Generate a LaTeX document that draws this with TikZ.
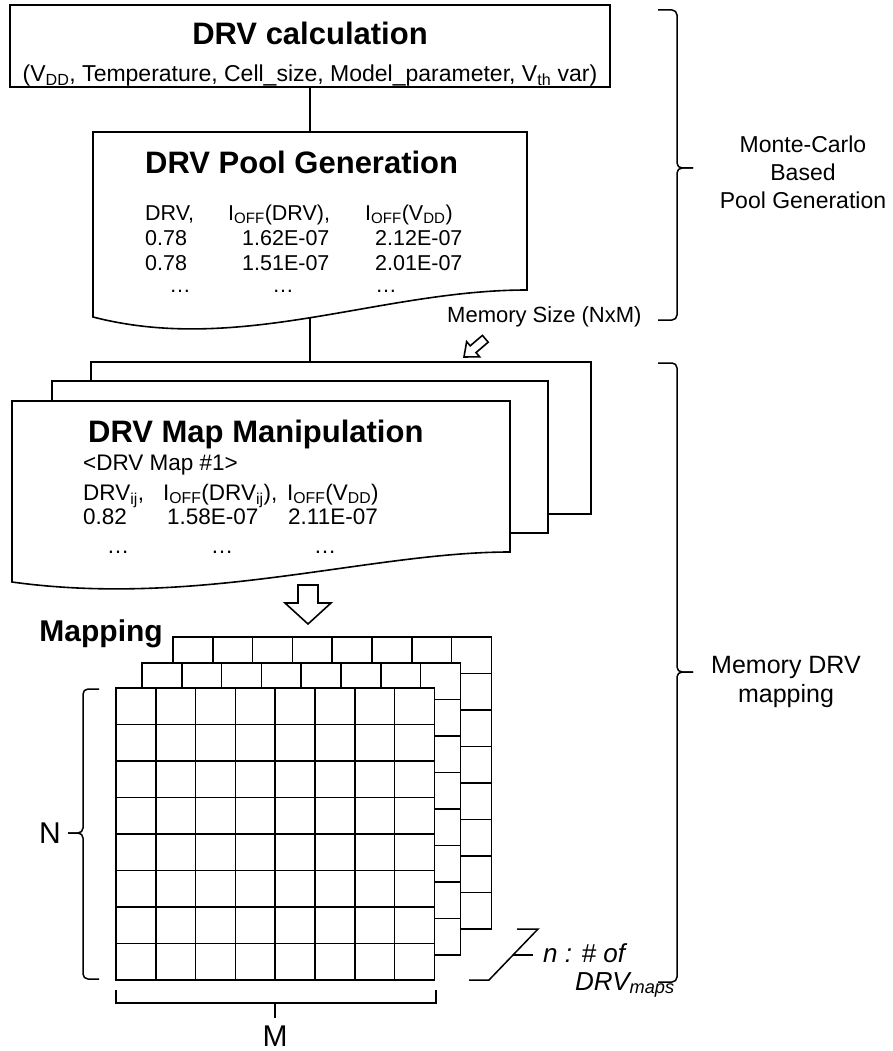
\documentclass[tikz,border=0pt]{standalone}
\usepackage{fontspec}
\setmainfont{Liberation Sans}
\newcommand\memgrid[2]{%
  \fill[white] (#1,#2) rectangle ++(318.4,292);
  \foreach \i in {1,...,7} {\draw[gridln] ({#1+\i*39.8},#2) -- ++(0,292);}
  \foreach \j in {1,...,7} {\draw[gridln] (#1,{#2+\j*36.5}) -- ++(318.4,0);}
  \draw[gridln] (#1,#2) rectangle ++(318.4,292);
}
\tikzset{
  ln/.style={line width=1.6pt, line join=miter},
  gridln/.style={line width=1.6pt, line cap=rect},
  pagebox/.style={ln, draw, fill=white},
  bracel/.style={line width=1.5pt, rounded corners=5pt},
  txt/.style={inner sep=0pt, anchor=base west},
  ctxt/.style={inner sep=0pt, anchor=base},
  ftitle/.style={font=\fontsize{31}{37}\selectfont\bfseries},
  fsub/.style={font=\fontsize{23}{28}\selectfont},
  fpool/.style={font=\fontsize{21.5}{26}\selectfont},
  fmap/.style={font=\fontsize{22.5}{27}\selectfont},
  flab/.style={font=\fontsize{23}{28}\selectfont},
  fbig/.style={font=\fontsize{30}{36}\selectfont},
  fital/.style={font=\fontsize{26}{31}\selectfont\itshape},
}
\begin{document}
\begin{tikzpicture}[x=1pt,y=-1pt]
\useasboundingbox (0,0) rectangle (893,1051);

% ---------- DRV calculation ----------
\node[ln, draw, fill=white, minimum width=600pt, minimum height=82pt, inner sep=0pt] (calc) at (310,46) {};
\node[ctxt, ftitle] (calct) at (310,45) {DRV calculation};
\node[ctxt, fsub] (calcs) at (310,82) {(V\textsubscript{DD}, Temperature, Cell\_size, Model\_parameter, V\textsubscript{th} var)};

% ---------- DRV Pool Generation ----------
\coordinate (pooltop) at (310,132);
\coordinate (poolbot) at (310,317.8);
\draw[ln] (calc.south) -- (pooltop);
\draw[pagebox] (93,132) -- (527,132) -- (527,290) .. controls (380,290) and (240,355) .. (93,317) -- cycle;
\node[txt, ftitle] (poolt) at (145,174) {DRV Pool Generation};
\node[txt, fpool] (p11) at (145,220) {DRV,};
\node[txt, fpool] (p12) at (228,220) {I\textsubscript{OFF}(DRV),};
\node[txt, fpool] (p13) at (365,220) {I\textsubscript{OFF}(V\textsubscript{DD})};
\node[txt, fpool] (p21) at (145,245) {0.78};
\node[txt, fpool] (p22) at (242,245) {1.62E-07};
\node[txt, fpool] (p23) at (375,245) {2.12E-07};
\node[txt, fpool] (p31) at (145,270) {0.78};
\node[txt, fpool] (p32) at (242,270) {1.51E-07};
\node[txt, fpool] (p33) at (375,270) {2.01E-07};
\node[ctxt, fpool] (pd1) at (180,292) {…};
\node[ctxt, fpool] (pd2) at (283,292) {…};
\node[ctxt, fpool] (pd3) at (386,292) {…};

% ---------- Memory size arrow ----------
\node[txt, fpool, font=\fontsize{22}{26}\selectfont] (msize) at (447,322.7) {Memory Size (NxM)};
\draw[ln, fill=white] (464,357) -- (479.6,356.8) -- (476.0,352.6) -- (488.2,342.2) -- (482.4,335.4) -- (470.2,345.8) -- (466.6,341.6) -- cycle;

% ---------- DRV Map pages ----------
\node[pagebox, minimum width=500pt, minimum height=152pt, inner sep=0pt] (mapback) at (341,438) {};
\draw[ln] (poolbot) -- (poolbot |- mapback.north);
\node[pagebox, minimum width=496pt, minimum height=152pt, inner sep=0pt] (mapmid) at (300,457) {};
\draw[pagebox] (12,401) -- (510,401) -- (510,552) .. controls (370,552) and (200,608) .. (12,582) -- cycle;
\node[txt, ftitle] (mapt) at (88,442) {DRV Map Manipulation};
\node[txt, fmap] (mapn) at (83,470) {<DRV Map \#1>};
\node[txt, fmap] (m11) at (83,500) {DRV\textsubscript{ij},};
\node[txt, fmap] (m12) at (163,500) {I\textsubscript{OFF}(DRV\textsubscript{ij}),};
\node[txt, fmap] (m13) at (287,500) {I\textsubscript{OFF}(V\textsubscript{DD})};
\node[txt, fmap] (m21) at (83,524) {0.82};
\node[txt, fmap] (m22) at (167,524) {1.58E-07};
\node[txt, fmap] (m23) at (288,524) {2.11E-07};
\node[ctxt, fmap] (md1) at (118,553) {…};
\node[ctxt, fmap] (md2) at (222,553) {…};
\node[ctxt, fmap] (md3) at (325,553) {…};

% ---------- Mapping arrow ----------
\draw[ln, fill=white] (298,585) -- (318,585) -- (318,603) -- (331,603) -- (308,624) -- (285,603) -- (298,603) -- cycle;
\node[inner sep=0pt, anchor=base east, font=\fontsize{30}{36}\selectfont\bfseries] (mapping) at (163,641) {Mapping};

% ---------- memory grids ----------
\memgrid{173}{637}
\memgrid{142}{663}
\memgrid{116}{688}

% ---------- N and M ----------
\draw[bracel] (99,689) -- (83,689) -- (83,833) -- (68,833);
\draw[bracel] (68,833) -- (83,833) -- (83,979) -- (99,979);
\node[fbig, inner sep=0pt] (N) at (50,833) {N};
\draw[line width=1.5pt] (116,990) -- (116,1003) -- (436,1003) -- (436,990);
\draw[line width=1.5pt] (275,1003) -- (275,1018);
\node[fbig, inner sep=0pt] (M) at (275,1036) {M};

% ---------- n maps ----------
\draw[line width=1.5pt] (469,980) -- (489,980) -- (538,929) -- (517,929);
\draw[line width=1.5pt] (513,955) -- (533,955);
\node[txt, fital] (nof) at (543,962) {n : \# of};
\node[txt, fital] (drvmaps) at (575,990) {DRV\textsubscript{maps}};

% ---------- right braces ----------
\draw[bracel] (658,10) -- (677,10) -- (677,168) -- (693,168);
\draw[bracel] (693,168) -- (677,168) -- (677,320) -- (658,320);
\node[ctxt, flab] (mc1) at (803,153) {Monte-Carlo};
\node[ctxt, flab] (mc2) at (803,180.5) {Based};
\node[ctxt, flab] (mc3) at (803,208) {Pool Generation};

\draw[bracel] (658,363) -- (677,363) -- (677,672) -- (693,672);
\draw[bracel] (693,672) -- (677,672) -- (677,982) -- (658,982);
\node[ctxt, flab, font=\fontsize{25}{30}\selectfont] (md1l) at (786,673) {Memory DRV};
\node[ctxt, flab, font=\fontsize{25}{30}\selectfont] (md2l) at (786,702) {mapping};
\end{tikzpicture}
\end{document}
